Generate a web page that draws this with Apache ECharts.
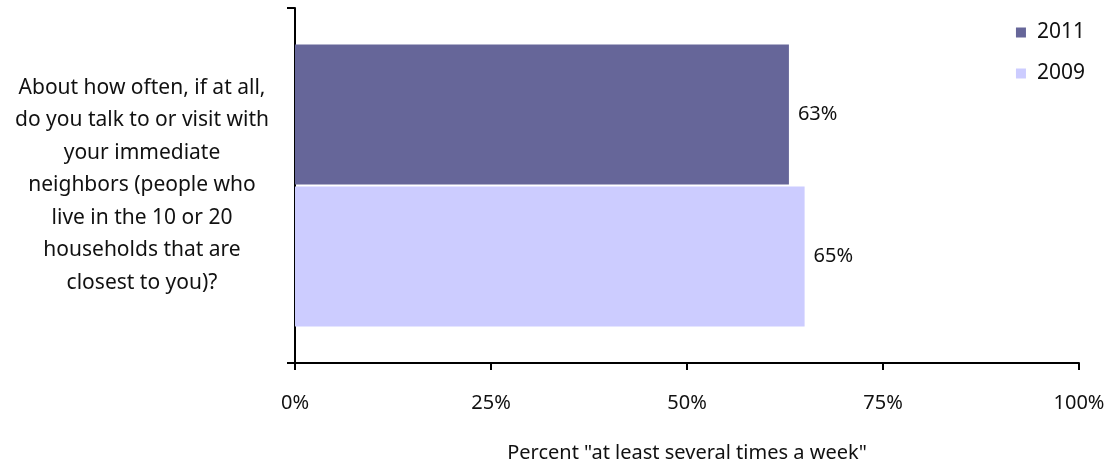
<!DOCTYPE html>
<html>
<head>
<meta charset="utf-8">
<title>Neighbors chart</title>
<script src="https://cdn.jsdelivr.net/npm/echarts@6/dist/echarts.min.js"></script>
<style>
  html, body { margin: 0; padding: 0; background: #fff; }
  #chart { width: 1112px; height: 465px; }
</style>
</head>
<body>
<div id="chart"></div>
<script>
// question text (one category)
const categories = [
  'About how often, if at all,\ndo you talk to or visit with\nyour immediate\nneighbors (people who\nlive in the 10 or 20\nhouseholds that are\nclosest to you)?'
];
const values2011 = [63];
const values2009 = [65];
const xTicks = [0, 25, 50, 75, 100];

const fontFamily = '"Noto Sans", sans-serif';
const textColor = '#111';

const chart = echarts.init(document.getElementById('chart'));

const barLabel = {
  show: true,
  position: 'right',
  distance: 9,
  formatter: '{c}%',
  fontSize: 20,
  color: textColor
};

const option = {
  animation: false,
  textStyle: { fontFamily: fontFamily, color: textColor },
  legend: {
    orient: 'vertical',
    right: 22,
    top: 17,
    itemWidth: 10,
    itemHeight: 10,
    itemGap: 20,
    icon: 'rect',
    data: ['2011', '2009'],
    textStyle: { fontFamily: fontFamily, fontSize: 21, color: textColor, padding: [0, 0, 0, 6] }
  },
  grid: {
    left: 295,
    right: 33,
    top: 8,
    bottom: 102,
    outerBoundsMode: 'none'
  },
  xAxis: {
    type: 'value',
    min: xTicks[0],
    max: xTicks[xTicks.length - 1],
    interval: 25,
    name: 'Percent "at least several times a week"',
    nameLocation: 'middle',
    nameGap: 80,
    nameTextStyle: { fontFamily: fontFamily, fontSize: 20, color: textColor },
    axisLine: { show: true, lineStyle: { color: '#000', width: 2 } },
    axisTick: { show: true, length: 7, lineStyle: { color: '#000', width: 2 } },
    axisLabel: {
      margin: 30,
      fontSize: 20,
      color: textColor,
      formatter: '{value}%'
    },
    splitLine: { show: false }
  },
  yAxis: {
    type: 'category',
    data: categories,
    axisLine: { show: true, lineStyle: { color: '#000', width: 2 } },
    axisTick: { show: true, length: 8, lineStyle: { color: '#000', width: 2 } },
    axisLabel: {
      margin: 153,
      align: 'center',
      fontSize: 21,
      lineHeight: 32.5,
      color: textColor
    }
  },
  series: [
    {
      name: '2011',
      type: 'bar',
      data: values2011,
      barWidth: 140,
      barGap: '1.5%',
      itemStyle: { color: '#666699' },
      label: barLabel
    },
    {
      name: '2009',
      type: 'bar',
      data: values2009,
      barWidth: 140,
      barGap: '1.5%',
      itemStyle: { color: '#CCCCFF' },
      label: barLabel
    }
  ]
};

chart.setOption(option);
</script>
</body>
</html>
